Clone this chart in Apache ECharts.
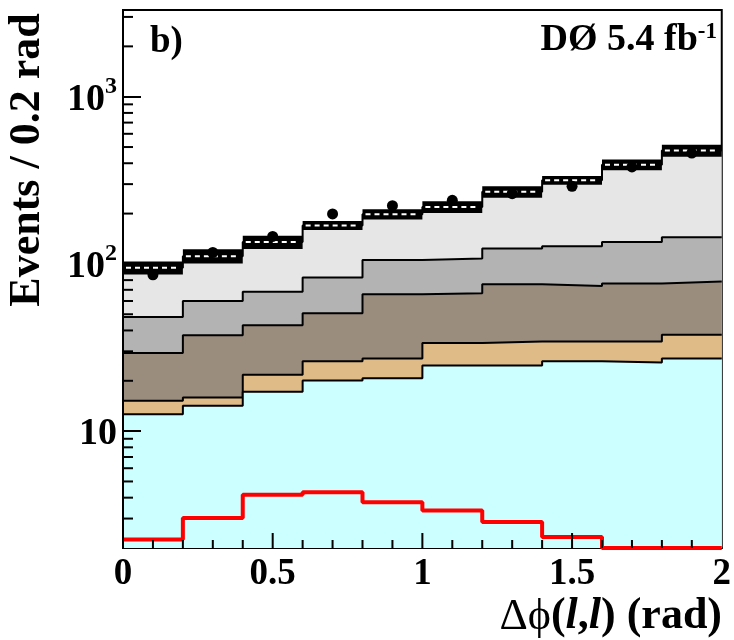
<!DOCTYPE html>
<html>
<head>
<meta charset="utf-8">
<script src="https://cdn.jsdelivr.net/npm/echarts@6/dist/echarts.min.js"></script>
<style>
  html,body{margin:0;padding:0;background:#fff}
  #main{width:734px;height:640px}
</style>
</head>
<body>
<div id="main"></div>
<script>
  // bins of 0.2 rad
  const binEdges=[0,0.2,0.4,0.6,0.8,1.0,1.2,1.4,1.6,1.8,2.0]
  const binCenters=[0.1,0.3,0.5,0.7,0.9,1.1,1.3,1.5,1.7,1.9]

  // background contributions, events per bin (bottom of stack first)
  const bkgCyan=[12.6,14.2,17.2,20.1,20.7,24.7,24.7,26.2,25.7,27.2]
  const bkgTan=[2.6,1.7,4.5,6.1,6.5,8.9,9.6,8.1,8.6,10.5]
  const bkgBrown=[14.1,21.6,21.3,24.5,38.6,33.1,41.2,39.5,42.0,40.7]
  const bkgGray=[18.9,22.5,25.2,32.1,39.6,41.2,48.1,53.8,58.7,66.1]
  const bkgLight=[46.6,51.3,66.8,87.2,92.6,111.1,146.4,188.4,257,331.5]
  // systematic uncertainty on the total background
  const bkgErr=[7.2,9.2,10.5,8.3,11.1,14.9,17.8,14.5,23.5,32.4]

  // data points and signal
  const dataEvents=[86,117,146,199,223,240,263,291,380,460]
  const signal=[2.25,3.02,4.17,4.31,3.76,3.35,2.86,2.33,2.0,2.0]

  // tick positions
  const xMajorTicks=[0.5,1.0,1.5]
  const xMinorTicks=[0.1,0.2,0.3,0.4,0.6,0.7,0.8,0.9,1.1,1.2,1.3,1.4,1.6,1.7,1.8,1.9]
  const yMinorTicks=[3,4,5,6,7,8,9,20,30,40,50,60,70,80,90,200,300,400,500,600,700,800,900,2000,3000]

  const layers=[
    {vals:bkgCyan,color:'#ccffff'},
    {vals:bkgTan,color:'#debb87'},
    {vals:bkgBrown,color:'#9b8d7e'},
    {vals:bkgGray,color:'#b3b3b3'},
    {vals:bkgLight,color:'#e6e6e6'}
  ]

  // cumulative sums for the stack
  let running=binCenters.map(()=>0)
  layers.forEach(l=>{
    running=running.map((s,i)=>s+l.vals[i])
    l.top=running.slice()
  })
  const total=running

  const stepData=vals=>binEdges.map((x,i)=>[x,vals[Math.min(i,vals.length-1)]])

  const font="'Liberation Serif','Times New Roman',serif"
  const yMin=2
  const yMax=3300

  const chart=echarts.init(document.getElementById('main'))

  // draw the top of the stack first so the lower layers sit over it
  const areaSeries=layers.slice().reverse().map((l,k)=>({
    type:'line',
    step:'end',
    symbol:'none',
    data:stepData(l.top),
    lineStyle:{color:'#000',width:2},
    areaStyle:{color:l.color,opacity:1,origin:'start'},
    z:2+k,
    silent:true
  }))

  // x ticks as short vertical line pieces from the bottom of the axis,
  // length given as a fraction of the log range
  const tickTop=frac=>yMin*Math.pow(yMax/yMin,frac)
  const xTickData=(vals,frac)=>{
    const out=[]
    vals.forEach(v=>{out.push([v,yMin],[v,tickTop(frac)],[v,'-'])})
    return out
  }
  const xTickSeries=(vals,frac)=>({
    type:'line',
    symbol:'none',
    connectNulls:false,
    data:xTickData(vals,frac),
    lineStyle:{color:'#000',width:2},
    z:20,
    silent:true
  })

  const option={
    animation:false,
    grid:{left:123,right:11,top:10,bottom:92,show:true,borderColor:'#000',borderWidth:2,backgroundColor:'transparent'},
    xAxis:{
      type:'value',min:0,max:2,interval:0.5,
      axisLine:{show:true,onZero:false,lineStyle:{color:'#000',width:2}},
      axisTick:{show:false},
      splitLine:{show:false},
      axisLabel:{margin:8,color:'#000',fontFamily:font,fontWeight:'bold',fontSize:37}
    },
    yAxis:{
      type:'log',logBase:10,min:yMin,max:yMax,z:30,
      axisLine:{show:true,lineStyle:{color:'#000',width:2}},
      axisTick:{inside:true,length:18,lineStyle:{color:'#000',width:2}},
      splitLine:{show:false},
      axisLabel:{
        margin:6,
        showMinLabel:false,showMaxLabel:false,
        formatter:v=>{
          const e=Math.log10(v)
          if(Math.abs(e-Math.round(e))>1e-6) return ''
          const n=Math.round(e)
          if(n===1) return '{n|10}'
          if(n>1) return '{n|10}{s|'+n+'}'
          return ''
        },
        rich:{
          n:{fontFamily:font,fontWeight:'bold',fontSize:38,color:'#000',padding:[6,0,0,0]},
          s:{fontFamily:font,fontWeight:'bold',fontSize:24,color:'#000',verticalAlign:'top'}
        }
      }
    },
    series:[
      ...areaSeries,
      {
        // uncertainty band on total background
        type:'custom',
        z:10,
        silent:true,
        data:binCenters.map((c,i)=>[binEdges[i],binEdges[i+1],total[i]-bkgErr[i],total[i]+bkgErr[i],total[i]]),
        renderItem:(params,api)=>{
          const p0=api.coord([api.value(0),api.value(3)])
          const p1=api.coord([api.value(1),api.value(2)])
          const pc=api.coord([api.value(0),api.value(4)])
          return {type:'group',children:[
            {type:'rect',shape:{x:p0[0],y:p0[1]-1,width:p1[0]-p0[0],height:p1[1]-p0[1]+2},style:{fill:'#000'}},
            {type:'line',shape:{x1:p0[0]+3,y1:pc[1],x2:p1[0]-3,y2:pc[1]},style:{stroke:'#fff',lineWidth:2,lineDash:[5,4]}}
          ]}
        }
      },
      {
        type:'line',
        step:'end',
        symbol:'none',
        data:stepData(signal),
        lineStyle:{color:'#ff0000',width:4},
        z:11,
        silent:true
      },
      {
        type:'scatter',
        data:binCenters.map((c,i)=>[c,dataEvents[i]]),
        symbol:'circle',
        symbolSize:11,
        itemStyle:{color:'#000',opacity:1},
        z:12,
        silent:true
      },
      {
        // minor ticks on the log axis
        type:'custom',
        z:13,
        silent:true,
        data:yMinorTicks.map(v=>[0,v]),
        renderItem:(params,api)=>{
          const p=api.coord([0,api.value(1)])
          return {type:'line',shape:{x1:p[0],y1:p[1],x2:p[0]+10,y2:p[1]},style:{stroke:'#000',lineWidth:2}}
        }
      },
      xTickSeries(xMajorTicks,0.028),
      xTickSeries(xMinorTicks,0.015)
    ],
    graphic:[
      {
        type:'text',x:28,y:160,rotation:Math.PI/2,z:100,
        style:{text:'Events / 0.2 rad',font:'bold 44px '+font,fill:'#000',align:'center',verticalAlign:'middle'}
      },
      {
        type:'text',x:722,y:617,z:100,
        style:{
          text:'{g|Δϕ}{b|(}{i|l}{b|,}{i|l}{b|) (rad)}',
          align:'right',verticalAlign:'middle',
          rich:{
            g:{fontFamily:font,fontSize:44,fill:'#000'},
            b:{fontFamily:font,fontWeight:'bold',fontSize:44,fill:'#000'},
            i:{fontFamily:font,fontWeight:'bold',fontStyle:'italic',fontSize:44,fill:'#000'}
          }
        }
      },
      {
        type:'text',x:150,y:42,z:100,
        style:{text:'b)',font:'bold 37px '+font,fill:'#000',align:'left',verticalAlign:'middle'}
      },
      {
        type:'text',x:717,y:40,z:100,
        style:{
          text:'{a|DØ 5.4 fb}{s|-1}',
          align:'right',verticalAlign:'middle',
          rich:{
            a:{fontFamily:font,fontWeight:'bold',fontSize:38,fill:'#000'},
            s:{fontFamily:font,fontWeight:'bold',fontSize:23,fill:'#000',verticalAlign:'top'}
          }
        }
      }
    ]
  }
  chart.setOption(option)
</script>
</body>
</html>
